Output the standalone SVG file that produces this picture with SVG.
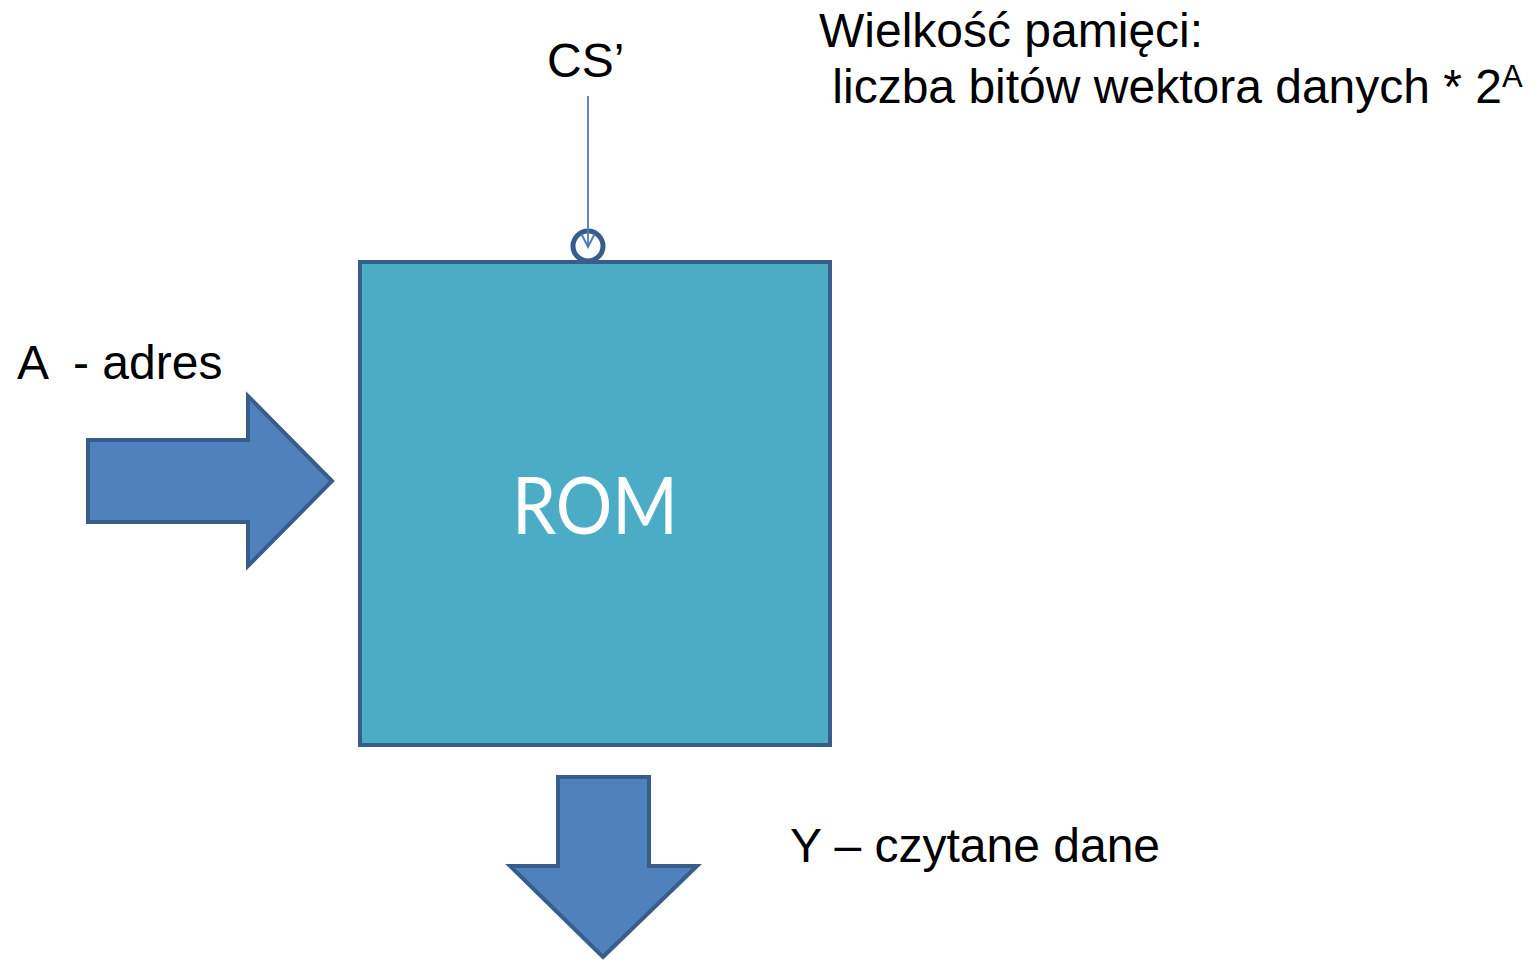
<svg xmlns="http://www.w3.org/2000/svg" width="1539" height="960" viewBox="0 0 1539 960">
  <style>
    .lbl { font-family: "Liberation Sans", Arial, sans-serif; font-size: 48px; fill: #000; }
    .bus { fill: #4f81bd; stroke: #385d8a; stroke-width: 4; stroke-linejoin: miter; }
    .title { font-family: Lato, "Open Sans", sans-serif; font-size: 80px; fill: #fff; }
  </style>
  <defs>
    <marker id="openArrow" viewBox="0 0 10 10" refX="9" refY="5" markerWidth="16" markerHeight="18" orient="auto" markerUnits="userSpaceOnUse">
      <path d="M1,1 L9,5 L1,9" fill="none" stroke="#4a7ebb" stroke-width="1.2"/>
    </marker>
  </defs>

  <rect width="1539" height="960" fill="#fff"/>

  <!-- ROM block -->
  <g id="rom">
    <rect x="360" y="262" width="470" height="483" fill="#4bacc6" stroke="#385d8a" stroke-width="4"/>
    <text class="title" x="595" y="534" text-anchor="middle" textLength="166" lengthAdjust="spacingAndGlyphs">ROM</text>
  </g>

  <!-- chip select inversion bubble -->
  <g id="cs-bubble">
    <circle cx="588" cy="246" r="15" fill="#fff" stroke="#385d8a" stroke-width="5"/>
  </g>

  <!-- address bus input -->
  <g id="address-bus">
    <polygon class="bus" points="88,440 248,440 248,396 332,481 248,566 248,522 88,522"/>
    <text class="lbl" x="17" y="379" xml:space="preserve">A  - adres</text>
  </g>

  <!-- data bus output -->
  <g id="data-bus">
    <polygon class="bus" points="558,777 649,777 649,866 697,866 603,957 510,866 558,866"/>
    <text class="lbl" x="790" y="862">Y – czytane dane</text>
  </g>

  <!-- chip select label -->
  <g id="cs-label">
    <text class="lbl" x="547" y="77">CS’</text>
  </g>

  <!-- memory size note -->
  <g id="size-note">
    <text class="lbl" x="819" y="47">Wielkość pamięci:</text>
    <text class="lbl" x="819" y="103" xml:space="preserve"> liczba bitów wektora danych * 2<tspan font-size="31" dy="-16">A</tspan></text>
  </g>

  <!-- connectors -->
  <g id="connectors">
    <line x1="588" y1="96" x2="588" y2="247" stroke="#4a7ebb" stroke-width="1.8" marker-end="url(#openArrow)"/>
  </g>
</svg>
